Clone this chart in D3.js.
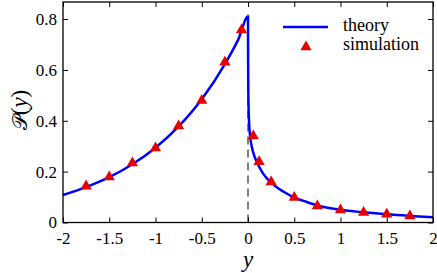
<!DOCTYPE html>
<html>
<head>
<meta charset="utf-8">
<script src="https://cdn.jsdelivr.net/npm/d3@7"></script>
</head>
<body style="margin:0">
<script>
// theory curve
const theoryX = [-2, -1.75, -1.5, -1.25, -1, -0.75, -0.5, -0.25, -0.1, 0,
                 0.001, 0.004, 0.01, 0.02, 0.04, 0.07, 0.1, 0.15, 0.2, 0.25, 0.3, 0.4,
                 0.5, 0.6, 0.75, 1, 1.25, 1.5, 1.75, 2];
const theoryY = [0.108, 0.139, 0.178, 0.229, 0.294, 0.378, 0.485, 0.623, 0.724, 0.81,
                 0.65, 0.5, 0.41, 0.35, 0.3, 0.26, 0.235, 0.2, 0.175, 0.157, 0.142, 0.118,
                 0.098, 0.085, 0.067, 0.05, 0.04, 0.032, 0.026, 0.021];

// simulation points
const simX = [-1.75, -1.5, -1.25, -1, -0.75, -0.5, -0.25, -0.07,
              0.057, 0.12, 0.25, 0.5, 0.75, 1, 1.25, 1.5, 1.75];
const simY = [0.143, 0.179, 0.234, 0.293, 0.379, 0.48, 0.63, 0.757,
              0.34, 0.239, 0.159, 0.098, 0.065, 0.049, 0.039, 0.032, 0.026];

const xTicks = [-2, -1.5, -1, -0.5, 0, 0.5, 1, 1.5, 2];
const yTicks = [0, 0.2, 0.4, 0.6, 0.8];

const serif = "'Liberation Serif'";

const W = 437, H = 273;
const margin = {top: 2, right: 4, bottom: 50.5, left: 63};
const width = W - margin.left - margin.right,
      height = H - margin.top - margin.bottom;

const svg = d3.select("body").append("svg")
    .attr("width", W).attr("height", H);
const g = svg.append("g")
    .attr("transform", "translate(" + margin.left + "," + margin.top + ")");

const x = d3.scaleLinear().domain([-2, 2]).range([0, width]);
const y = d3.scaleLinear().domain([0, 0.867]).range([height, 0]);

// helper: serif text
function font(sel, size) {
  return sel.style("font-family", serif, "important")
    .style("font-size", size + "px", "important");
}

// dashed line at y = 0
g.append("line")
  .attr("x1", x(0)).attr("x2", x(0))
  .attr("y1", y(0)).attr("y2", y(0.82))
  .attr("stroke", "#555").attr("stroke-width", 1.5)
  .attr("stroke-dasharray", "8,5");

// theory
const theory = theoryX.map((v, i) => [v, theoryY[i]]);
const line = d3.line()
  .x(d => x(d[0]))
  .y(d => y(d[1]))
  .curve(d3.curveMonotoneX);
g.append("path")
  .datum(theory)
  .attr("fill", "none")
  .attr("stroke", "#0000ff")
  .attr("stroke-width", 2.5)
  .attr("d", line);

// simulation
const tri = d3.symbol().type(d3.symbolTriangle).size(55);
g.selectAll(".sim")
  .data(simX.map((v, i) => [v, simY[i]]))
  .enter().append("path")
  .attr("class", "sim")
  .attr("d", tri)
  .attr("transform", d => "translate(" + x(d[0]) + "," + y(d[1]) + ")")
  .attr("fill", "#e60000");

// axes with inward ticks
const axB = g.append("g").attr("transform", "translate(0," + height + ")")
  .call(d3.axisBottom(x).tickValues(xTicks).tickSizeInner(-5).tickSizeOuter(0)
    .tickPadding(9).tickFormat(d => String(d)));
const axL = g.append("g")
  .call(d3.axisLeft(y).tickValues(yTicks).tickSizeInner(-5).tickSizeOuter(0)
    .tickPadding(6).tickFormat(d => String(d)));
const axT = g.append("g")
  .call(d3.axisTop(x).tickValues(xTicks).tickSizeInner(-5).tickSizeOuter(0).tickFormat(""));
const axR = g.append("g").attr("transform", "translate(" + width + ",0)")
  .call(d3.axisRight(y).tickValues(yTicks).tickSizeInner(-5).tickSizeOuter(0).tickFormat(""));

[axB, axL, axT, axR].forEach(a => {
  a.attr("font-family", serif).attr("font-size", 17);
  a.select(".domain").remove();
  a.selectAll("line").attr("stroke", "#000").attr("stroke-width", 1);
  font(a.selectAll("text").attr("fill", "#000"), 17);
});

// frame
g.append("rect")
  .attr("width", width).attr("height", height)
  .attr("fill", "none").attr("stroke", "#000").attr("stroke-width", 1.3);

// axis labels
font(svg.append("text"), 23)
  .attr("x", margin.left + x(0)).attr("y", 267)
  .attr("text-anchor", "middle")
  .style("font-style", "italic")
  .text("y");

const yl = font(svg.append("text"), 23)
  .attr("transform", "translate(27,110) rotate(-90)")
  .attr("text-anchor", "middle");
yl.append("tspan").style("font-family", "'DejaVu Sans'", "important").style("font-size", "21px").text("𝒫");
yl.append("tspan").text("(");
yl.append("tspan").style("font-style", "italic").text("y");
yl.append("tspan").text(")");

// legend
const lg = svg.append("g");
lg.append("line")
  .attr("x1", 283).attr("x2", 328).attr("y1", 27).attr("y2", 27)
  .attr("stroke", "#0000ff").attr("stroke-width", 2.5);
lg.append("path")
  .attr("d", tri)
  .attr("transform", "translate(306,47)")
  .attr("fill", "#e60000");
font(lg.append("text"), 18).attr("x", 343).attr("y", 31).text("theory");
font(lg.append("text"), 18).attr("x", 343).attr("y", 50).text("simulation");
</script>
</body>
</html>
